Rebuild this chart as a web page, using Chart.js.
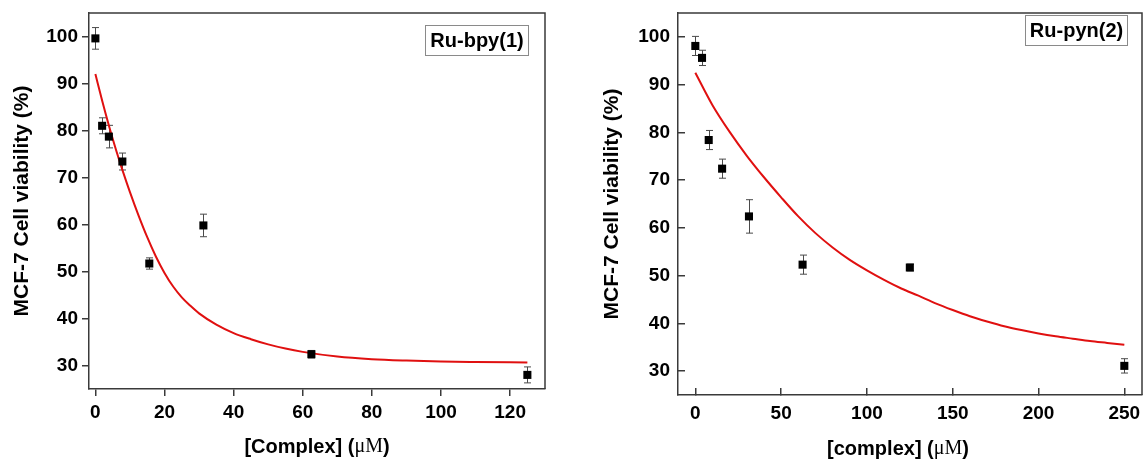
<!DOCTYPE html>
<html><head><meta charset="utf-8">
<script src="https://cdn.jsdelivr.net/npm/chart.js@4.4.1/dist/chart.umd.min.js"></script>
<style>
html,body{margin:0;padding:0;background:#fff;width:1143px;height:459px;overflow:hidden}
#c1{position:absolute;left:0;top:0}
#c2{position:absolute;left:575px;top:0}
</style></head><body>
<canvas id="c1" width="575" height="459"></canvas>
<canvas id="c2" width="568" height="459"></canvas>
<script>
// ---- data ----
const bpyDose=[0,1.95,3.9,7.8,15.6,31.25,62.5,125];
const bpyViability=[99.6,81.0,78.7,73.4,51.7,59.8,32.4,28.0];
const bpyError=[2.3,1.7,2.4,1.8,1.2,2.4,0.8,1.7];
const bpyFitDose=[0,2,4,6,8,10,12.5,15,17.5,20,22.5,25,27.5,30,35,40,45,50,55,60,70,80,90,100,110,125];
const bpyFitViability=[92.0,86.2,80.8,75.8,71.2,66.9,61.9,57.3,53.2,49.7,46.8,44.5,42.7,41.1,38.7,36.9,35.6,34.5,33.6,32.9,31.9,31.35,31.05,30.85,30.75,30.65];

const pynDose=[0,3.9,7.8,15.6,31.25,62.5,125,250];
const pynViability=[98.1,95.6,78.4,72.4,62.4,52.3,51.7,31.1];
const pynError=[2.0,1.6,2.0,2.0,3.5,2.0,0.7,1.5];
const pynFitDose=[0,10,20,30,40,50,60,70,80,90,100,110,120,130,140,150,160,170,180,190,200,210,220,230,240,250];
const pynFitViability=[92.5,85.7,80.1,75.1,70.6,66.4,62.4,58.9,55.9,53.3,51.1,49.1,47.3,45.8,44.2,42.8,41.5,40.4,39.4,38.6,37.9,37.3,36.8,36.3,35.9,35.5];

const bpyXTicks=[0,20,40,60,80,100,120];
const pynXTicks=[0,50,100,150,200,250];
const yTicks=[30,40,50,60,70,80,90,100];

const yTitle='MCF-7 Cell viability (%)';
const bpyXTitle=['[Complex] (','μM',')'];
const pynXTitle=['[complex] (','μM',')'];
const bpyLabel='Ru-bpy(1)';
const pynLabel='Ru-pyn(2)';

// ---- styling ----
const SANS='"Liberation Sans", Arial, sans-serif';
const SERIF='"Liberation Serif", "Times New Roman", serif';
const AXIS='#3a3a3a';

function noPad(s){s.paddingLeft=0;s.paddingRight=0;s.paddingTop=0;s.paddingBottom=0;}

const decor={
  id:'decor',
  beforeDatasetsDraw(chart,args,o){
    const ctx=chart.ctx, xs=chart.scales.x, ys=chart.scales.y;
    const ds=chart.data.datasets[0];
    ctx.save();
    ctx.strokeStyle='#4a4a4a';ctx.lineWidth=1;
    ds.data.forEach((p,i)=>{
      const e=ds.errors[i];
      const x=Math.round(xs.getPixelForValue(p.x))+0.5;
      const yt=ys.getPixelForValue(p.y+e), yb=ys.getPixelForValue(p.y-e);
      ctx.beginPath();
      ctx.moveTo(x,yt);ctx.lineTo(x,yb);
      ctx.moveTo(x-3.5,yt);ctx.lineTo(x+3.5,yt);
      ctx.moveTo(x-3.5,yb);ctx.lineTo(x+3.5,yb);
      ctx.stroke();
    });
    ctx.restore();
  },
  afterDraw(chart,args,o){
    const ctx=chart.ctx, a=chart.chartArea;
    ctx.save();
    ctx.strokeStyle=AXIS;ctx.lineWidth=1.5;
    ctx.beginPath();
    ctx.moveTo(a.left,a.top);ctx.lineTo(a.right,a.top);ctx.lineTo(a.right,a.bottom);
    ctx.stroke();
    const fonts=['bold 20px '+SANS,'20px '+SERIF,'bold 20px '+SANS];
    let w=0;const ws=o.xTitle.map((t,i)=>{ctx.font=fonts[i];const m=ctx.measureText(t).width;w+=m;return m;});
    let x=(a.left+a.right)/2+o.xTitleShift-w/2;
    ctx.fillStyle='#000';ctx.textBaseline='middle';ctx.textAlign='left';
    o.xTitle.forEach((t,i)=>{ctx.font=fonts[i];ctx.fillText(t,x,o.xTitleY);x+=ws[i];});
    const b=o.box;
    ctx.fillStyle='#fff';ctx.fillRect(b[0],b[1],b[2],b[3]);
    ctx.strokeStyle='#8a8a8a';ctx.lineWidth=1;
    ctx.strokeRect(b[0]+0.5,b[1]+0.5,b[2],b[3]);
    ctx.fillStyle='#000';ctx.font='bold 20px '+SANS;ctx.textAlign='center';
    ctx.fillText(o.label,b[0]+b[2]/2+0.5,b[1]+b[3]/2+1);
    ctx.restore();
  }
};

function makeChart(id,c){
  return new Chart(document.getElementById(id),{
    type:'scatter',
    data:{datasets:[
      {type:'scatter',data:c.dose.map((d,i)=>({x:d,y:c.viab[i]})),errors:c.err,
       pointStyle:'rect',pointRadius:5.7,pointHoverRadius:5.7,backgroundColor:'#000',borderColor:'#000',borderWidth:0,order:0},
      {type:'line',data:c.fitX.map((d,i)=>({x:d,y:c.fitY[i]})),borderColor:'#e01010',borderWidth:2,
       pointRadius:0,fill:false,cubicInterpolationMode:'monotone',order:1}
    ]},
    options:{
      responsive:false,animation:false,devicePixelRatio:1,
      layout:{autoPadding:false,padding:{left:0,top:13,right:c.padRight,bottom:0}},
      plugins:{legend:{display:false},tooltip:{enabled:false},
        decor:{xTitle:c.xTitle,xTitleY:c.xTitleY,xTitleShift:c.xTitleShift,box:c.box,label:c.label}},
      scales:{
        x:{type:'linear',min:c.xMin,max:c.xMax,
          afterFit:s=>{s.height=c.xAxisH;noPad(s);},
          afterBuildTicks:s=>{s.ticks=c.xTicks.map(v=>({value:v}));},
          border:{color:AXIS,width:1.5},
          grid:{drawOnChartArea:false,color:AXIS,lineWidth:1.5,tickLength:c.tickLen,tickWidth:1.5},
          ticks:{color:'#000',font:{family:SANS,size:19,weight:'bold'},padding:c.xLabPad,maxRotation:0}
        },
        y:{type:'linear',min:25,max:105,
          afterFit:s=>{s.width=c.yAxisW;noPad(s);},
          afterBuildTicks:s=>{s.ticks=yTicks.map(v=>({value:v}));},
          border:{color:AXIS,width:1.5},
          grid:{drawOnChartArea:false,color:AXIS,lineWidth:1.5,tickLength:c.tickLen,tickWidth:1.5},
          ticks:{color:'#000',font:{family:SANS,size:19,weight:'bold'},padding:c.yLabPad},
          title:{display:true,text:yTitle,color:'#000',font:{family:SANS,size:21,weight:'bold'},padding:{top:c.yTitlePad,bottom:0}}
        }
      }
    },
    plugins:[decor]
  });
}

makeChart('c1',{dose:bpyDose,viab:bpyViability,err:bpyError,fitX:bpyFitDose,fitY:bpyFitViability,
  xTicks:bpyXTicks,xMin:-1.85,xMax:130.1,padRight:30,yAxisW:89,xAxisH:70,tickLen:7,xLabPad:5,yLabPad:4,yTitlePad:10,
  xTitle:bpyXTitle,xTitleY:447,xTitleShift:0,box:[425,25,103,30],label:bpyLabel});

makeChart('c2',{dose:pynDose,viab:pynViability,err:pynError,fitX:pynFitDose,fitY:pynFitViability,
  xTicks:pynXTicks,xMin:-10.1,xMax:260.3,padRight:1,yAxisW:103,xAxisH:64,tickLen:-7,xLabPad:14,yLabPad:15,yTitlePad:25,
  xTitle:pynXTitle,xTitleY:449,xTitleShift:-12,box:[450,15,102,30],label:pynLabel});
</script>
</body></html>
